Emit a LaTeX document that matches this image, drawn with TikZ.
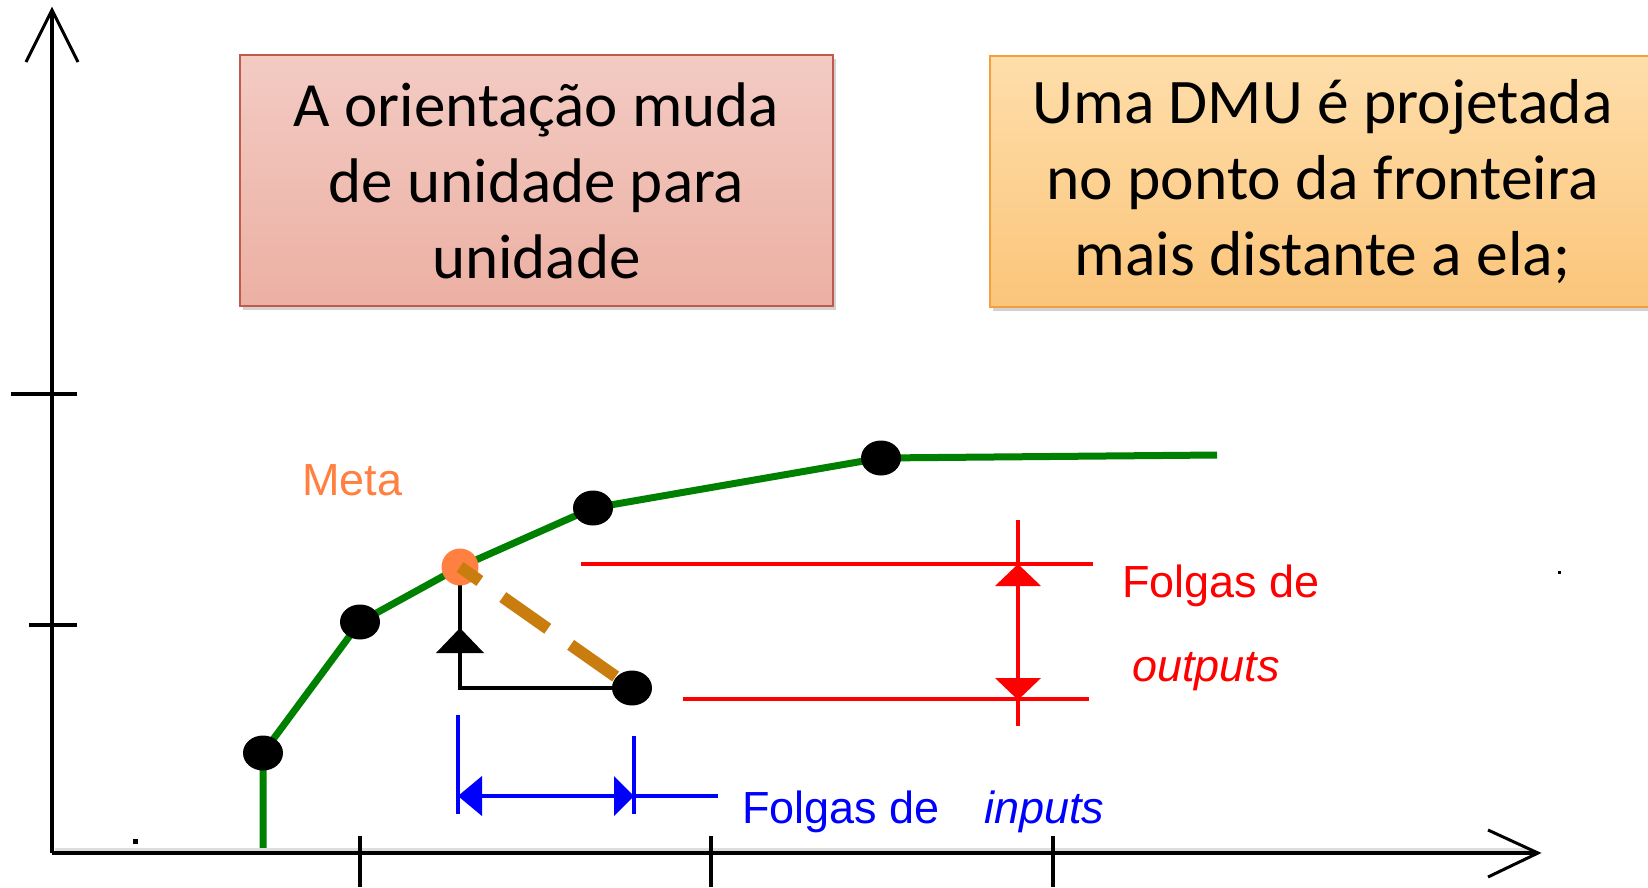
\documentclass[tikz,border=0pt]{standalone}
\usepackage{fontspec}
\setmainfont{Carlito}
\newfontfamily\pixfont{Liberation Sans}
\usetikzlibrary{shadows,shapes.geometric}
\pgfdeclarelayer{bg}
\pgfsetlayers{bg,main}
\definecolor{frontgreen}{HTML}{008000}
\definecolor{metaorange}{HTML}{FF8040}
\definecolor{dashbrown}{HTML}{C87D0E}
\definecolor{pinktop}{HTML}{F3CBC3}
\definecolor{pinkbot}{HTML}{ECB0A3}
\definecolor{pinkedge}{HTML}{BE5A4E}
\definecolor{orangetop}{HTML}{FEDEAB}
\definecolor{orangebot}{HTML}{FBC57A}
\definecolor{orangeedge}{HTML}{F3A03C}
\definecolor{axisgrey}{HTML}{DDDDDD}
\begin{document}
\begin{tikzpicture}[x=1pt,y=-1pt,
  axisline/.style={line width=4pt, black},
  chevron/.style={line width=3pt, black, line join=miter},
  frontier/.style={line width=7pt, frontgreen},
  dmu/.style={ellipse, fill=black, inner sep=0pt, minimum width=40pt, minimum height=35pt},
  metadot/.style={circle, fill=metaorange, inner sep=0pt, minimum size=37pt},
  projline/.style={line width=12pt, dashbrown, dash pattern=on 55pt off 28pt, dash phase=63pt},
  pathline/.style={line width=3.5pt, black},
  redline/.style={line width=4pt, red},
  blueline/.style={line width=4pt, blue},
  notebox/.style={draw, line width=1.5pt, align=center, inner sep=0pt,
    drop shadow={shadow xshift=3pt, shadow yshift=-4pt, opacity=0.35}},
  pixlabel/.style={anchor=base west, inner sep=0pt, font=\pixfont\fontsize{45pt}{54pt}\selectfont},
]
\useasboundingbox (0,0) rectangle (1648,887);
\begin{pgfonlayer}{bg}
\fill[white] (0,0) rectangle (1648,887);
\end{pgfonlayer}

% axes
\coordinate (O) at (52,853);
\coordinate (ytop) at (52,10);
\coordinate (xtop) at (1538,853);
\draw[axisgrey, line width=3pt] (55,849) -- (1530,849);
\draw[axisline] (O) -- (ytop);
\draw[axisline] (O) -- (xtop);
\draw[chevron] (26,62) -- (ytop) -- (78,62);
\draw[chevron] (1488,830) -- (xtop) -- (1488,877);
\draw[axisline] (11,394) -- (77,394);
\draw[axisline] (29,625) -- (77,625);
\draw[axisline] (360,836) -- (360,887);
\draw[axisline] (711,836) -- (711,887);
\draw[axisline] (1053,836) -- (1053,887);

% boxes
\node[notebox, pinkedge, top color=pinktop, bottom color=pinkbot,
  minimum width=593pt, minimum height=251pt, text=black,
  font=\fontsize{63pt}{76pt}\selectfont] (boxa) at (536.5,180.5)
  {A orientação muda\\de unidade para\\unidade};
\node[notebox, orangeedge, top color=orangetop, bottom color=orangebot,
  minimum width=665pt, minimum height=251pt, text=black,
  font=\fontsize{63.5pt}{76pt}\selectfont] (boxb) at (1322.5,181.5)
  {\raisebox{-3pt}{\parbox{665pt}{\centering Uma DMU é projetada\\no ponto da fronteira\\mais distante a ela;}}};

% DMUs
\node[dmu] (d1) at (263,753) {};
\node[dmu] (d2) at (360,622) {};
\node[metadot] (meta) at (460,567) {};
\node[dmu] (d3) at (593,508) {};
\node[dmu] (d4) at (881,458) {};
\node[dmu] (d5) at (632,688) {};
\coordinate (g0) at (263,853);
\coordinate (g6) at (1217,455);
\coordinate (corner) at (460,688);

\begin{pgfonlayer}{bg}
\draw[frontier] (g0) -- (d1.center) -- (d2.center) -- (meta.center) -- (d3.center) -- (d4.center) -- (g6);
\draw[pathline] (d5.center) -- (corner) -- (meta.center);
\end{pgfonlayer}
% upward arrow on the path
\fill[black] (460,628) -- (484,653) -- (436,653) -- cycle;
% projection dashed line
\draw[projline] (d5.center) -- (meta.center);

\node[pixlabel, text=metaorange] (metalabel) at (302,495) {Meta};

% output slacks
\coordinate (ot1) at (581,564);
\coordinate (ot2) at (1093,564);
\coordinate (ob1) at (683,699);
\coordinate (ob2) at (1089,699);
\coordinate (ov1) at (1018,520);
\coordinate (ov2) at (1018,726);
\draw[redline] (ot1) -- (ot2);
\draw[redline] (ob1) -- (ob2);
\draw[redline] (ov1) -- (ov2);
\fill[red] (1018,564) -- (1041,586) -- (995,586) -- cycle;
\fill[red] (1018,700) -- (1041,678) -- (995,678) -- cycle;
\node[pixlabel, text=red] (outl1) at (1122,597) {Folgas de};
\node[pixlabel, text=red] (outl2) at (1132,681) {\itshape outputs};

% input slacks
\coordinate (il1) at (458,715);
\coordinate (il2) at (458,814);
\coordinate (ir1) at (634,736);
\coordinate (ir2) at (634,814);
\coordinate (ih1) at (458,796);
\coordinate (ih2) at (718,796);
\draw[blueline] (il1) -- (il2);
\draw[blueline] (ir1) -- (ir2);
\draw[blueline] (ih1) -- (ih2);
\fill[blue] (458,796) -- (482,776) -- (482,816) -- cycle;
\fill[blue] (634,796) -- (614,776) -- (614,816) -- cycle;
\node[pixlabel, text=blue] (inl1) at (742,823) {Folgas de};
\node[pixlabel, text=blue] (inl2) at (984,823) {\itshape inputs};

% stray specks
\fill[black] (133,839) rectangle (138,844);
\fill[black] (1558,571) rectangle (1561,574);
\end{tikzpicture}
\end{document}
